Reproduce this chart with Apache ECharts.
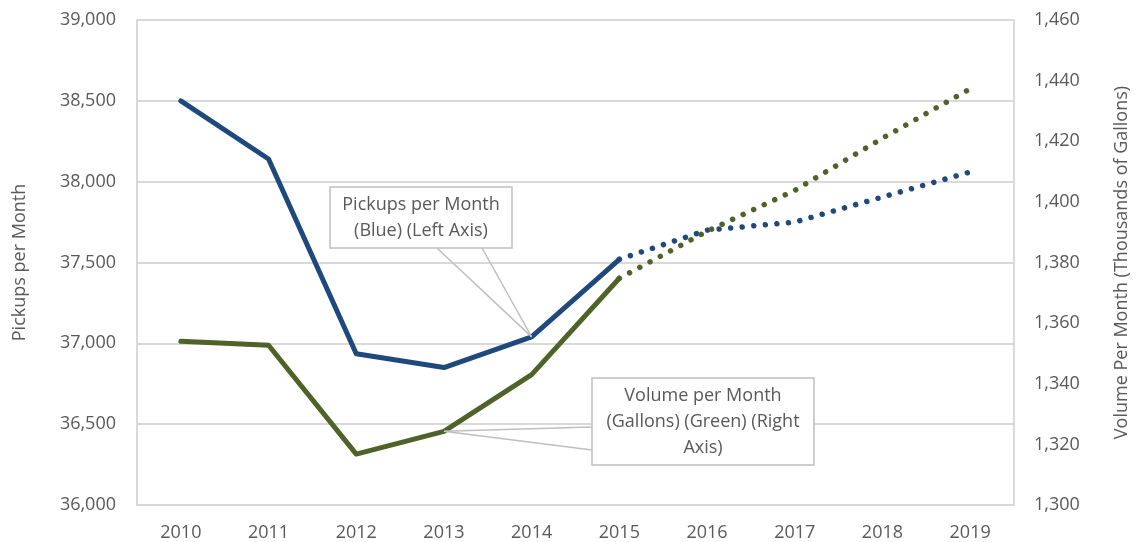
<!DOCTYPE html>
<html>
<head>
<meta charset="utf-8">
<script src="https://cdn.jsdelivr.net/npm/echarts@6/dist/echarts.min.js"></script>
<style>
    html, body { margin: 0; padding: 0; background: #fff; }
    #chart { width: 1139px; height: 542px; }
</style>
</head>
<body>
<div id="chart"></div>
<script>
// 数据
const years = ['2010', '2011', '2012', '2013', '2014', '2015', '2016', '2017', '2018', '2019'];
// 实际值 (2010-2015) 和 预测值 (2015-2019)
const pickupsActual = [38500, 38140, 36935, 36850, 37040, 37520, null, null, null, null];
const pickupsForecast = [null, null, null, null, null, 37520, 37700, 37750, 37905, 38060];
const volumeActual = [1354.0, 1352.7, 1316.8, 1324.3, 1343.0, 1374.8, null, null, null, null];
const volumeForecast = [null, null, null, null, null, 1374.8, 1390.3, 1403.8, 1421, 1437.3];

const colors = {
    blue: '#1f497d',
    green: '#4f6228',
    text: '#595959',
    grid: '#d9d9d9',
    callout: '#bfbfbf'
};
const font = '"Open Sans", sans-serif';

const chart = echarts.init(document.getElementById('chart'));

const fmt = function(v) { return v.toLocaleString('en-US'); };

const option = {
    animation: false,
    backgroundColor: '#fff',
    textStyle: { fontFamily: font },
    grid: { left: 137, right: 124, top: 20, bottom: 37 },
    xAxis: {
        type: 'category',
        data: years,
        boundaryGap: true,
        axisLine: { show: true, lineStyle: { color: colors.grid, width: 2 } },
        axisTick: { show: false },
        axisLabel: { color: colors.text, fontSize: 18, fontFamily: font, margin: 19 }
    },
    yAxis: [
        {
            type: 'value',
            min: 36000, max: 39000, interval: 500,
            name: 'Pickups per Month',
            nameLocation: 'middle',
            nameGap: 108,
            nameTextStyle: { color: colors.text, fontSize: 18, fontFamily: font },
            axisLine: { show: true, lineStyle: { color: colors.grid, width: 2 } },
            axisTick: { show: false },
            axisLabel: { color: colors.text, fontSize: 18, fontFamily: font, margin: 21, formatter: fmt },
            splitLine: { show: true, lineStyle: { color: colors.grid, width: 2 } }
        },
        {
            type: 'value',
            position: 'right',
            min: 1300, max: 1460, interval: 20,
            name: 'Volume Per Month (Thousands of Gallons)',
            nameLocation: 'middle',
            nameGap: 99,
            nameRotate: 90,
            nameTextStyle: { color: colors.text, fontSize: 18, fontFamily: font },
            axisLine: { show: true, lineStyle: { color: colors.grid, width: 2 } },
            axisTick: { show: false },
            axisLabel: { color: colors.text, fontSize: 18, fontFamily: font, margin: 20, formatter: fmt },
            splitLine: { show: false }
        }
    ],
    series: [
        {
            name: 'Pickups', type: 'line', yAxisIndex: 0, data: pickupsActual,
            showSymbol: false, connectNulls: false,
            lineStyle: { color: colors.blue, width: 5, cap: 'round', join: 'round' }
        },
        {
            name: 'Pickups forecast', type: 'line', yAxisIndex: 0, data: pickupsForecast,
            showSymbol: false,
            lineStyle: { color: colors.blue, width: 5.5, type: [0.01, 11.6], cap: 'round', join: 'round' }
        },
        {
            name: 'Volume', type: 'line', yAxisIndex: 1, data: volumeActual,
            showSymbol: false,
            lineStyle: { color: colors.green, width: 5, cap: 'round', join: 'round' }
        },
        {
            name: 'Volume forecast', type: 'line', yAxisIndex: 1, data: volumeForecast,
            showSymbol: false,
            lineStyle: { color: colors.green, width: 5.5, type: [0.01, 11.6], cap: 'round', join: 'round' }
        }
    ]
};

chart.setOption(option);

// 标注框 (位置按参考图摆放, 指向线连到数据点)
const bluePt = chart.convertToPixel({ xAxisIndex: 0, yAxisIndex: 0 }, [years[4], pickupsActual[4]]);
const greenPt = chart.convertToPixel({ xAxisIndex: 0, yAxisIndex: 1 }, [years[3], volumeActual[3]]);

const lineStyle = { stroke: colors.callout, lineWidth: 1.5 };
const textStyle = {
    fill: colors.text, fontSize: 18, fontFamily: font,
    align: 'center', verticalAlign: 'middle', lineHeight: 26
};

chart.setOption({
    graphic: [
        // 蓝色标注
        { type: 'line', shape: { x1: 437, y1: 248, x2: bluePt[0], y2: bluePt[1] }, style: lineStyle, z: 100 },
        { type: 'line', shape: { x1: 482, y1: 248, x2: bluePt[0], y2: bluePt[1] }, style: lineStyle, z: 100 },
        {
            type: 'rect', shape: { x: 330, y: 187, width: 182, height: 61 },
            style: { fill: '#fff', stroke: colors.callout, lineWidth: 1.5 }, z: 100
        },
        {
            type: 'text', x: 421, y: 218, z: 101,
            style: Object.assign({ text: 'Pickups per Month\n(Blue) (Left Axis)' }, textStyle)
        },
        // 绿色标注
        { type: 'line', shape: { x1: 592, y1: 427, x2: greenPt[0], y2: greenPt[1] }, style: lineStyle, z: 100 },
        { type: 'line', shape: { x1: 592, y1: 450, x2: greenPt[0], y2: greenPt[1] }, style: lineStyle, z: 100 },
        {
            type: 'rect', shape: { x: 592, y: 378, width: 222, height: 87 },
            style: { fill: '#fff', stroke: colors.callout, lineWidth: 1.5 }, z: 100
        },
        {
            type: 'text', x: 703, y: 422, z: 101,
            style: Object.assign({ text: 'Volume per Month\n(Gallons) (Green) (Right\nAxis)' }, textStyle)
        }
    ]
});

window.addEventListener('resize', function() { chart.resize(); });
</script>
</body>
</html>
